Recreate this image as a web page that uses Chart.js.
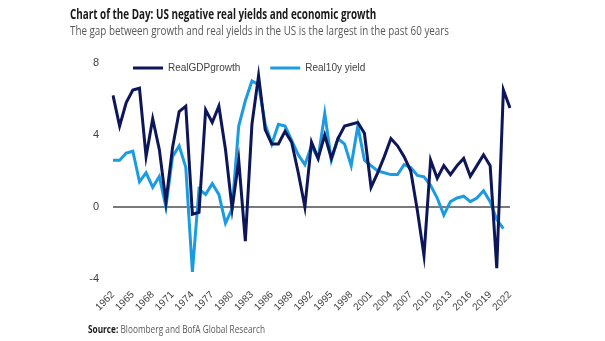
<!DOCTYPE html>
<html>
<head>
<meta charset="utf-8">
<script src="https://cdn.jsdelivr.net/npm/chart.js@4"></script>
<style>
  body { margin: 0; background: #fff; }
  #wrap { position: relative; width: 605px; height: 341px; }
  #chart { position: absolute; left: 0; top: 0; }
  .txt { position: absolute; white-space: nowrap; transform-origin: 0 50%; font-family: 'Open Sans', 'Liberation Sans', Arial, sans-serif; }
  #title { left: 70px; top: 4px; font-size: 14px; font-weight: bold; color: #1a1a1a; }
  #subtitle { left: 70px; top: 21px; font-size: 13px; color: #595959; }
  #source { left: 88px; top: 322px; font-size: 10px; color: #595959; }
  #source b { color: #1a1a1a; }
</style>
</head>
<body>
<div id="wrap">
  <canvas id="chart" width="605" height="341"></canvas>
  <div class="txt" id="title">Chart of the Day: US negative real yields and economic growth</div>
  <div class="txt" id="subtitle">The gap between growth and real yields in the US is the largest in the past 60 years</div>
  <div class="txt" id="source"><b>Source:</b> Bloomberg and BofA Global Research</div>
</div>
<script>
const years = [];
for (let y = 1962; y <= 2022; y++) years.push(String(y));

const tickYears = ['1962', '1965', '1968', '1971', '1974', '1977', '1980', '1983', '1986', '1989',
    '1992', '1995', '1998', '2001', '2004', '2007', '2010', '2013', '2016', '2019', '2022'];

// 1962 - 2022
const realGdpGrowth = [
    6.2, 4.5, 5.8, 6.5, 6.6, 2.8, 4.9, 3.2, 0.3, 3.3,
    5.3, 5.6, -0.4, -0.3, 5.4, 4.7, 5.6, 3.2, -0.1, 2.6,
    -1.9, 4.6, 7.3, 4.3, 3.5, 3.5, 4.2, 3.6, 1.9, 0.0,
    3.6, 2.7, 4.0, 2.7, 3.8, 4.5, 4.6, 4.7, 4.1, 1.1,
    1.9, 2.8, 3.8, 3.4, 2.8, 2.0, -0.2, -2.7, 2.6, 1.6,
    2.3, 1.8, 2.3, 2.7, 1.7, 2.3, 2.9, 2.3, -3.4, 6.5,
    5.5
];

const real10yYield = [
    2.6, 2.6, 3.0, 3.1, 1.4, 1.9, 1.1, 1.7, 0.0, 2.8,
    3.4, 2.2, -3.6, 1.0, 0.7, 1.3, 0.7, -0.9, -0.1, 4.5,
    5.9, 7.0, 6.8, 4.6, 3.5, 4.6, 4.5, 3.7, 2.9, 2.35,
    3.4, 2.7, 5.2, 2.6, 3.8, 3.5, 2.3, 4.5, 2.6, 2.3,
    2.0, 1.9, 1.8, 1.8, 2.35, 2.2, 1.75, 1.68, 1.2, 0.5,
    -0.45, 0.3, 0.5, 0.6, 0.3, 0.5, 0.9, 0.3, -0.7, -1.2,
    null
];

const yTicks = [-4, 0, 4, 8];

// squeeze the header/footer text to the narrow width of the original typeface
const textWidths = { title: 306, subtitle: 379, source: 177 };
for (const id in textWidths) {
    const el = document.getElementById(id);
    el.style.transform = 'scaleX(' + (textWidths[id] / el.offsetWidth) + ')';
}

// the legend sits inside the plot area, just under the top
const legendInside = {
    id: 'legendInside',
    afterLayout(chart) {
        const lg = chart.legend;
        const pad = lg.options.labels.padding;
        const dx = chart.chartArea.left + 20 - (lg.left + pad);
        const dy = chart.chartArea.top - (lg.top + pad);
        lg.left += dx; lg.right += dx;
        lg.top += dy; lg.bottom += dy;
    }
};

Chart.defaults.font.family = "'Liberation Sans', Arial, sans-serif";
Chart.defaults.color = '#404040';

new Chart(document.getElementById('chart'), {
    type: 'line',
    data: {
        labels: years,
        datasets: [{
            label: 'RealGDPgrowth',
            data: realGdpGrowth,
            borderColor: '#0c1659',
            backgroundColor: '#0c1659',
            borderWidth: 3,
            pointRadius: 0,
            tension: 0
        }, {
            label: 'Real10y yield',
            data: real10yYield,
            borderColor: '#1b9ce2',
            backgroundColor: '#1b9ce2',
            borderWidth: 3,
            pointRadius: 0,
            tension: 0
        }]
    },
    options: {
        responsive: false,
        animation: false,
        devicePixelRatio: 1,
        layout: { padding: { left: 60, right: 95, top: 13, bottom: 0 } },
        plugins: {
            title: { display: false },
            tooltip: { enabled: false },
            legend: {
                position: 'top',
                align: 'start',
                labels: {
                    usePointStyle: true,
                    pointStyle: 'line',
                    pointStyleWidth: 30,
                    padding: 30,
                    color: '#404040',
                    font: { size: 10 }
                }
            }
        },
        scales: {
            x: {
                grid: { display: false },
                border: { display: false },
                afterFit(scale) { scale.height = 62; },
                ticks: {
                    autoSkip: false,
                    maxRotation: 45,
                    minRotation: 45,
                    padding: 2,
                    color: '#404040',
                    font: { size: 10 },
                    callback(value) {
                        const lbl = this.getLabelForValue(value);
                        return tickYears.includes(lbl) ? lbl : '';
                    }
                }
            },
            y: {
                min: yTicks[0],
                max: yTicks[yTicks.length - 1],
                afterFit(scale) { scale.width = 53; },
                afterBuildTicks(scale) { scale.ticks = yTicks.map(v => ({ value: v })); },
                border: { display: false },
                grid: {
                    drawTicks: false,
                    color: (ctx) => ctx.tick && ctx.tick.value === 0 ? '#7a7a7a' : 'rgba(0,0,0,0)',
                    lineWidth: 2
                },
                ticks: {
                    padding: 14,
                    color: '#404040',
                    font: { size: 11 }
                }
            }
        }
    },
    plugins: [legendInside]
});
</script>
</body>
</html>
